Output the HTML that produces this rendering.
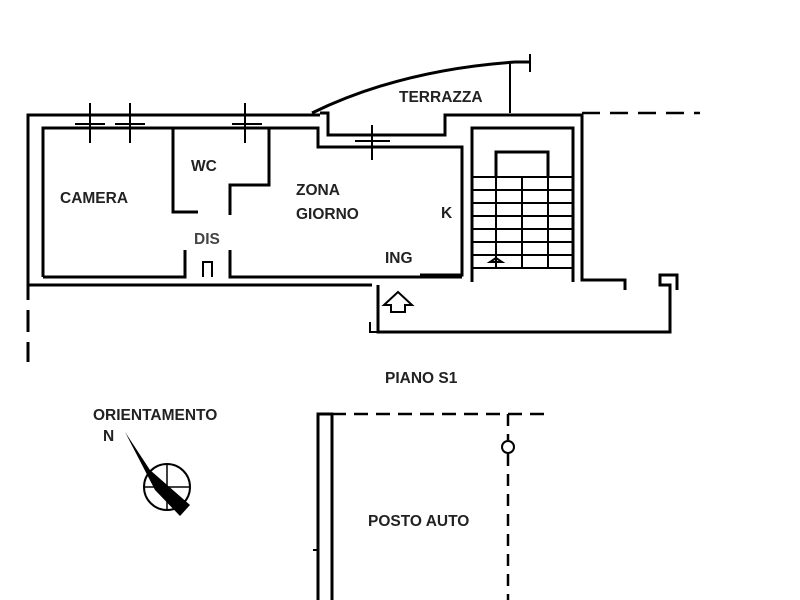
<!DOCTYPE html>
<html><head><meta charset="utf-8"><style>
body{margin:0;width:800px;height:600px;background:#fff;overflow:hidden}
svg{display:block}
text{font-family:"Liberation Sans",sans-serif;font-weight:bold;font-size:15.5px;fill:#222}
</style></head><body>
<svg width="800" height="600" viewBox="0 0 800 600">
<g fill="none" stroke="#000" stroke-width="3">
<path d="M28 300 V115 H320"/>
<path d="M43 277 V128 H173 M173 128 V212 H198"/>
<path d="M173 128 H269 V185 H230 V215"/>
<path d="M269 128 H318 V147 H462 V275 H420"/>
<path d="M43 277 H185 V250 M230 250 V277 H462" />
<path d="M28 285 H372"/>
<path d="M320 113 L328 113 V135 H445 V115 H582 V280 H625 V290"/>
<path d="M472 282 V128 H573 V282"/>
<path d="M496 177 V152 H548 V177"/>
</g>
<g stroke="#000" stroke-width="2" fill="none">
<path d="M472 177 H573 M472 190 H573 M472 203 H573 M472 216 H573 M472 229 H573 M472 242 H573 M472 255 H573 M472 268 H573"/>
<path d="M496 177 V268 M522 177 V268 M548 177 V268"/>
<path d="M496 258 L490 262 H502 Z"/>
<path d="M378 285 V332 H670 V285 H660 V275 H677 V290" stroke-width="3"/>
<path d="M378 332 H370 V322"/>
<path d="M384 305 L398 292 L412 305 H405 V312 H391 V305 Z"/>
<path d="M312 113 Q400 70 515 62 H530" stroke-width="3"/>
<path d="M510 62 V113 M530 54 V72" stroke-width="2"/>
<path d="M75 124 H105 M115 124 H145 M232 124 H262 M355 141 H390"/>
<path d="M90 103 V143 M130 103 V143 M245 103 V143 M372 125 V160" stroke-width="2"/>
<path d="M203 277 V262 H212 V277"/>
</g>
<path d="M582 113 H700" stroke="#000" stroke-width="2.5" stroke-dasharray="18 10"/>
<path d="M28 310 V362" stroke="#000" stroke-width="3" stroke-dasharray="22 10"/>
<g stroke="#000" fill="none">
<path d="M318 600 V414 H332 V600" stroke-width="3"/>
<path d="M313 550 H318" stroke-width="2"/>
<path d="M332 414 H545" stroke-width="2.5" stroke-dasharray="14 8"/>
<path d="M508 414 V440 M508 454 V600" stroke-width="2.5" stroke-dasharray="12 8"/>
<circle cx="508" cy="447" r="6" stroke-width="2"/>
<circle cx="167" cy="487" r="23" stroke-width="2"/>
<path d="M144 487 H190 M167 464 V510" stroke-width="1.5"/>
</g>
<path d="M125 432 L150 470 L190 505 L180 516 L155 490 Z" fill="#000"/>
<text x="60" y="203">CAMERA</text>
<text x="191" y="171">WC</text>
<text x="296" y="195">ZONA</text>
<text x="296" y="219">GIORNO</text>
<text x="194" y="244" style="fill:#444">DIS</text>
<text x="441" y="218">K</text>
<text x="385" y="263">ING</text>
<text x="399" y="102">TERRAZZA</text>
<text x="385" y="383">PIANO S1</text>
<text x="93" y="420">ORIENTAMENTO</text>
<text x="103" y="441">N</text>
<text x="368" y="526">POSTO AUTO</text>
</svg>
</body></html>
